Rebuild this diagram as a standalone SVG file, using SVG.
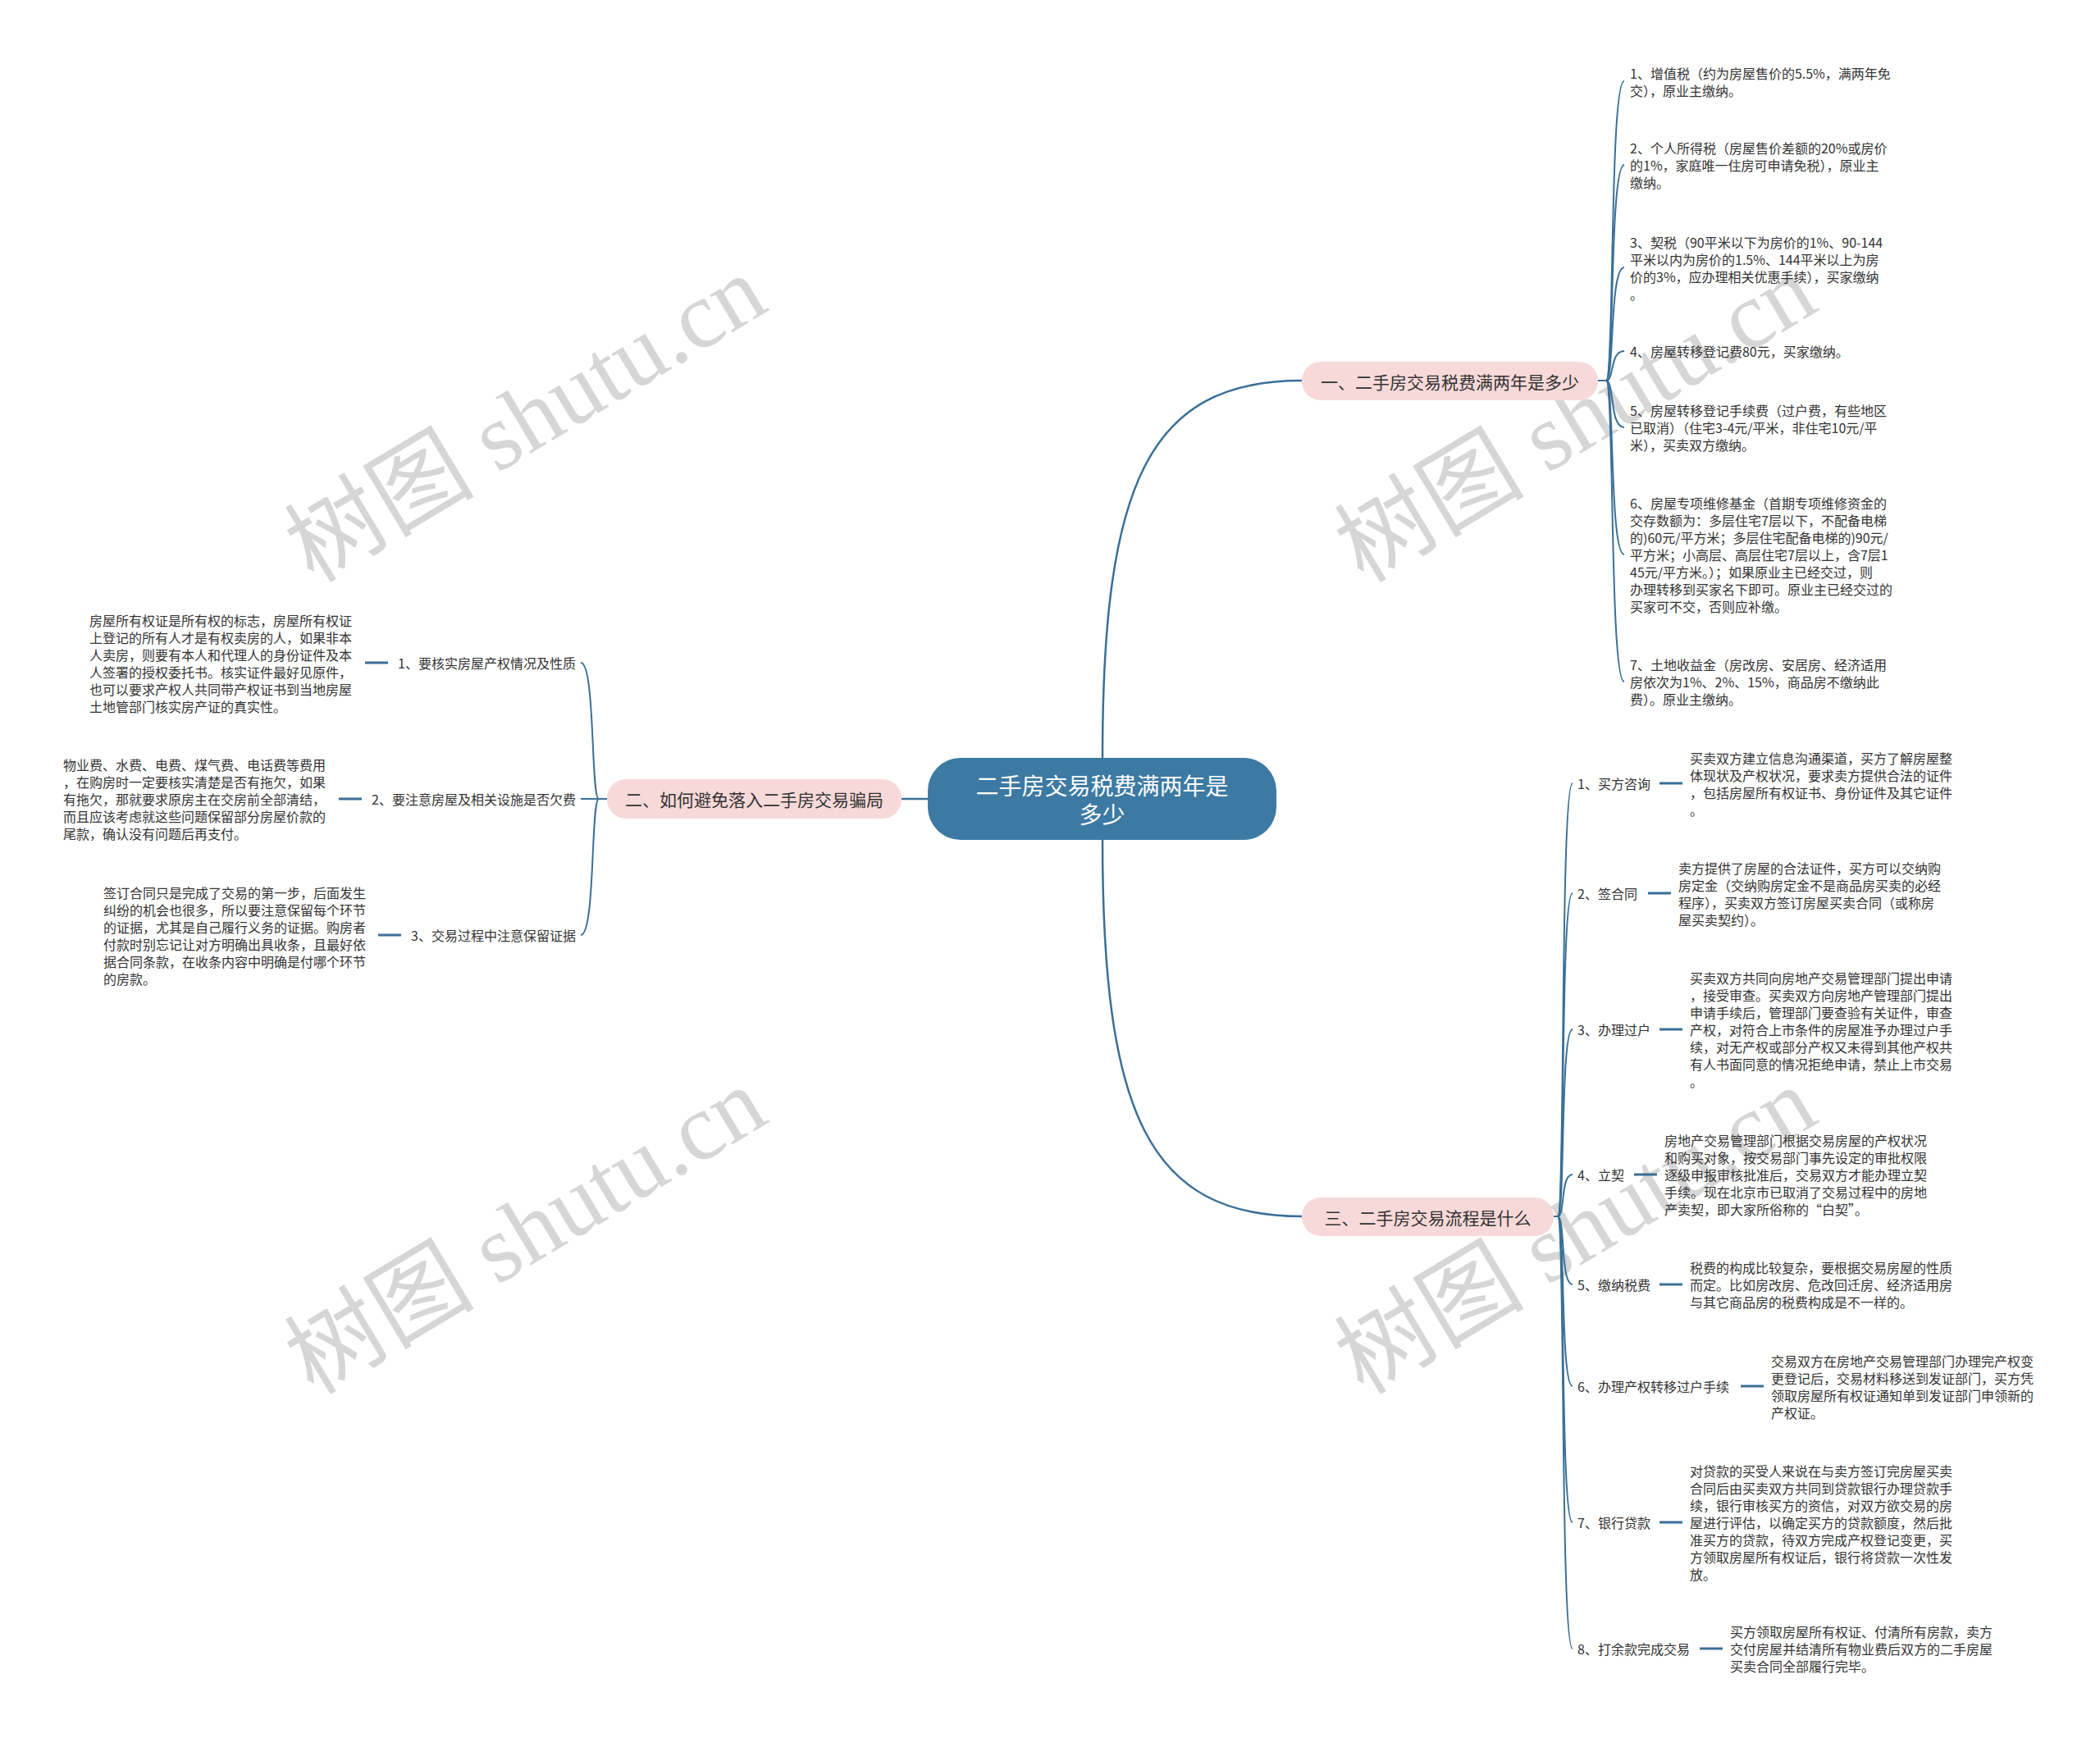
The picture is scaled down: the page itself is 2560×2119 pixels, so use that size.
<svg xmlns="http://www.w3.org/2000/svg" width="2560" height="2119" viewBox="0 0 2560 2119">
<style>
.bg{fill:#ffffff}
.wm{font-family:"Liberation Serif","Noto Sans CJK SC",serif;font-size:116px;fill:#d6d6d6}
.c{fill:none;stroke:#3a6f96;stroke-width:2}
.cm{fill:none;stroke:#3a6f96;stroke-width:2.5}
.d{fill:none;stroke:#3a6f96;stroke-width:3}
.root{fill:#3d7aa3}
.rt{font-family:"Noto Sans CJK SC","Microsoft YaHei",sans-serif;font-size:28px;fill:#ffffff;text-anchor:middle;dominant-baseline:central}
.br{fill:#f8d9d9}
.bt{font-family:"Noto Sans CJK SC","Microsoft YaHei",sans-serif;font-size:21px;fill:#333333;text-anchor:middle;dominant-baseline:central}
.t{font-family:"Noto Sans CJK SC","Microsoft YaHei",sans-serif;font-size:16px;fill:#333333;dominant-baseline:central}
.e{text-anchor:end}
</style>
<rect class="bg" x="0" y="0" width="2560" height="2119"/>
<g id="watermark">
<text class="wm" x="382" y="712" transform="rotate(-31 382 712)">树图 shutu.cn</text>
<text class="wm" x="1662" y="712" transform="rotate(-31 1662 712)">树图 shutu.cn</text>
<text class="wm" x="382" y="1702" transform="rotate(-31 382 1702)">树图 shutu.cn</text>
<text class="wm" x="1662" y="1702" transform="rotate(-31 1662 1702)">树图 shutu.cn</text>
</g>
<g id="connectors">
<path class="cm" d="M1344 924 C1344 590 1400 464 1587 464"/>
<path class="cm" d="M1344 1024 C1344 1358 1400 1483 1587 1483"/>
<path class="cm" d="M1131 974 L1099 974"/>
<path class="c" d="M1948 464 L1958 464 C1968 464 1962 99 1980 99"/>
<path class="c" d="M1948 464 L1958 464 C1968 464 1962 201 1980 201"/>
<path class="c" d="M1948 464 L1958 464 C1968 464 1962 326 1980 326"/>
<path class="c" d="M1948 464 L1958 464 C1968 464 1962 428 1980 428"/>
<path class="c" d="M1948 464 L1958 464 C1968 464 1962 521 1980 521"/>
<path class="c" d="M1948 464 L1958 464 C1968 464 1962 676 1980 676"/>
<path class="c" d="M1948 464 L1958 464 C1968 464 1962 831 1980 831"/>
<path class="c" d="M1894 1483 L1899 1483 C1908 1483 1902 955 1917 955"/>
<path class="c" d="M1894 1483 L1899 1483 C1908 1483 1902 1089 1917 1089"/>
<path class="c" d="M1894 1483 L1899 1483 C1908 1483 1902 1255 1917 1255"/>
<path class="c" d="M1894 1483 L1899 1483 C1908 1483 1902 1432 1917 1432"/>
<path class="c" d="M1894 1483 L1899 1483 C1908 1483 1902 1566 1917 1566"/>
<path class="c" d="M1894 1483 L1899 1483 C1908 1483 1902 1690 1917 1690"/>
<path class="c" d="M1894 1483 L1899 1483 C1908 1483 1902 1856 1917 1856"/>
<path class="c" d="M1894 1483 L1899 1483 C1908 1483 1902 2010 1917 2010"/>
<path class="c" d="M740 974 L730 974 C720 974 726 808 708 808"/>
<path class="c" d="M740 974 L708 974"/>
<path class="c" d="M740 974 L730 974 C720 974 726 1140 708 1140"/>
<path class="d" d="M2023 955 L2051 955"/>
<path class="d" d="M2009 1089 L2037 1089"/>
<path class="d" d="M2023 1255 L2051 1255"/>
<path class="d" d="M1992 1432 L2020 1432"/>
<path class="d" d="M2023 1566 L2051 1566"/>
<path class="d" d="M2122 1690 L2150 1690"/>
<path class="d" d="M2023 1856 L2051 1856"/>
<path class="d" d="M2072 2010 L2100 2010"/>
<path class="d" d="M445 808 L473 808"/>
<path class="d" d="M413 974 L441 974"/>
<path class="d" d="M461 1140 L489 1140"/>
</g>
<g id="root">
<rect class="root" x="1131" y="924" width="425" height="100" rx="40" ry="40"/>
<text class="rt"><tspan x="1343.5" y="957">二手房交易税费满两年是</tspan><tspan x="1343.5" y="992">多少</tspan></text>
</g>
<g id="branch1">
<rect class="br" x="1587" y="441" width="361" height="47" rx="23" ry="23"/>
<text class="bt" x="1767.5" y="464.5">一、二手房交易税费满两年是多少</text>
</g>
<g id="branch2">
<rect class="br" x="740" y="950" width="359" height="48" rx="23" ry="23"/>
<text class="bt" x="919.5" y="974">二、如何避免落入二手房交易骗局</text>
</g>
<g id="branch3">
<rect class="br" x="1587" y="1460" width="307" height="47" rx="23" ry="23"/>
<text class="bt" x="1740.5" y="1483.5">三、二手房交易流程是什么</text>
</g>
<g id="b1-item1"><text class="t"><tspan x="1987" y="88.5">1、增值税（约为房屋售价的5.5%，满两年免</tspan><tspan x="1987" y="109.5">交），原业主缴纳。</tspan></text></g>
<g id="b1-item2"><text class="t"><tspan x="1987" y="180">2、个人所得税（房屋售价差额的20%或房价</tspan><tspan x="1987" y="201">的1%，家庭唯一住房可申请免税），原业主</tspan><tspan x="1987" y="222">缴纳。</tspan></text></g>
<g id="b1-item3"><text class="t"><tspan x="1987" y="294.5">3、契税（90平米以下为房价的1%、90-144</tspan><tspan x="1987" y="315.5">平米以内为房价的1.5%、144平米以上为房</tspan><tspan x="1987" y="336.5">价的3%，应办理相关优惠手续），买家缴纳</tspan><tspan x="1987" y="357.5">。</tspan></text></g>
<g id="b1-item4"><text class="t" x="1987" y="428">4、房屋转移登记费80元，买家缴纳。</text></g>
<g id="b1-item5"><text class="t"><tspan x="1987" y="500">5、房屋转移登记手续费（过户费，有些地区</tspan><tspan x="1987" y="521">已取消）（住宅3-4元/平米，非住宅10元/平</tspan><tspan x="1987" y="542">米），买卖双方缴纳。</tspan></text></g>
<g id="b1-item6"><text class="t"><tspan x="1987" y="613">6、房屋专项维修基金（首期专项维修资金的</tspan><tspan x="1987" y="634">交存数额为：多层住宅7层以下，不配备电梯</tspan><tspan x="1987" y="655">的)60元/平方米；多层住宅配备电梯的)90元/</tspan><tspan x="1987" y="676">平方米；小高层、高层住宅7层以上，含7层1</tspan><tspan x="1987" y="697">45元/平方米。）；如果原业主已经交过，则</tspan><tspan x="1987" y="718">办理转移到买家名下即可。原业主已经交过的</tspan><tspan x="1987" y="739">买家可不交，否则应补缴。</tspan></text></g>
<g id="b1-item7"><text class="t"><tspan x="1987" y="810">7、土地收益金（房改房、安居房、经济适用</tspan><tspan x="1987" y="831">房依次为1%、2%、15%，商品房不缴纳此</tspan><tspan x="1987" y="852">费）。原业主缴纳。</tspan></text></g>
<g id="b2-item1">
<text class="t e" x="702" y="808">1、要核实房屋产权情况及性质</text>
<text class="t"><tspan x="109" y="755.5">房屋所有权证是所有权的标志，房屋所有权证</tspan><tspan x="109" y="776.5">上登记的所有人才是有权卖房的人，如果非本</tspan><tspan x="109" y="797.5">人卖房，则要有本人和代理人的身份证件及本</tspan><tspan x="109" y="818.5">人签署的授权委托书。核实证件最好见原件，</tspan><tspan x="109" y="839.5">也可以要求产权人共同带产权证书到当地房屋</tspan><tspan x="109" y="860.5">土地管部门核实房产证的真实性。</tspan></text>
</g>
<g id="b2-item2">
<text class="t e" x="702" y="974">2、要注意房屋及相关设施是否欠费</text>
<text class="t"><tspan x="77" y="932">物业费、水费、电费、煤气费、电话费等费用</tspan><tspan x="77" y="953">，在购房时一定要核实清楚是否有拖欠，如果</tspan><tspan x="77" y="974">有拖欠，那就要求原房主在交房前全部清结，</tspan><tspan x="77" y="995">而且应该考虑就这些问题保留部分房屋价款的</tspan><tspan x="77" y="1016">尾款，确认没有问题后再支付。</tspan></text>
</g>
<g id="b2-item3">
<text class="t e" x="702" y="1140">3、交易过程中注意保留证据</text>
<text class="t"><tspan x="126" y="1087.5">签订合同只是完成了交易的第一步，后面发生</tspan><tspan x="126" y="1108.5">纠纷的机会也很多，所以要注意保留每个环节</tspan><tspan x="126" y="1129.5">的证据，尤其是自己履行义务的证据。购房者</tspan><tspan x="126" y="1150.5">付款时别忘记让对方明确出具收条，且最好依</tspan><tspan x="126" y="1171.5">据合同条款，在收条内容中明确是付哪个环节</tspan><tspan x="126" y="1192.5">的房款。</tspan></text>
</g>
<g id="b3-item1">
<text class="t" x="1923" y="955">1、买方咨询</text>
<text class="t"><tspan x="2060" y="923.5">买卖双方建立信息沟通渠道，买方了解房屋整</tspan><tspan x="2060" y="944.5">体现状及产权状况，要求卖方提供合法的证件</tspan><tspan x="2060" y="965.5">，包括房屋所有权证书、身份证件及其它证件</tspan><tspan x="2060" y="986.5">。</tspan></text>
</g>
<g id="b3-item2">
<text class="t" x="1923" y="1089">2、签合同</text>
<text class="t"><tspan x="2046" y="1057.5">卖方提供了房屋的合法证件，买方可以交纳购</tspan><tspan x="2046" y="1078.5">房定金（交纳购房定金不是商品房买卖的必经</tspan><tspan x="2046" y="1099.5">程序），买卖双方签订房屋买卖合同（或称房</tspan><tspan x="2046" y="1120.5">屋买卖契约）。</tspan></text>
</g>
<g id="b3-item3">
<text class="t" x="1923" y="1255">3、办理过户</text>
<text class="t"><tspan x="2060" y="1192">买卖双方共同向房地产交易管理部门提出申请</tspan><tspan x="2060" y="1213">，接受审查。买卖双方向房地产管理部门提出</tspan><tspan x="2060" y="1234">申请手续后，管理部门要查验有关证件，审查</tspan><tspan x="2060" y="1255">产权，对符合上市条件的房屋准予办理过户手</tspan><tspan x="2060" y="1276">续，对无产权或部分产权又未得到其他产权共</tspan><tspan x="2060" y="1297">有人书面同意的情况拒绝申请，禁止上市交易</tspan><tspan x="2060" y="1318">。</tspan></text>
</g>
<g id="b3-item4">
<text class="t" x="1923" y="1432">4、立契</text>
<text class="t"><tspan x="2029" y="1390">房地产交易管理部门根据交易房屋的产权状况</tspan><tspan x="2029" y="1411">和购买对象，按交易部门事先设定的审批权限</tspan><tspan x="2029" y="1432">逐级申报审核批准后，交易双方才能办理立契</tspan><tspan x="2029" y="1453">手续。现在北京市已取消了交易过程中的房地</tspan><tspan x="2029" y="1474">产卖契，即大家所俗称的“白契”。</tspan></text>
</g>
<g id="b3-item5">
<text class="t" x="1923" y="1566">5、缴纳税费</text>
<text class="t"><tspan x="2060" y="1545">税费的构成比较复杂，要根据交易房屋的性质</tspan><tspan x="2060" y="1566">而定。比如房改房、危改回迁房、经济适用房</tspan><tspan x="2060" y="1587">与其它商品房的税费构成是不一样的。</tspan></text>
</g>
<g id="b3-item6">
<text class="t" x="1923" y="1690">6、办理产权转移过户手续</text>
<text class="t"><tspan x="2159" y="1658.5">交易双方在房地产交易管理部门办理完产权变</tspan><tspan x="2159" y="1679.5">更登记后，交易材料移送到发证部门，买方凭</tspan><tspan x="2159" y="1700.5">领取房屋所有权证通知单到发证部门申领新的</tspan><tspan x="2159" y="1721.5">产权证。</tspan></text>
</g>
<g id="b3-item7">
<text class="t" x="1923" y="1856">7、银行贷款</text>
<text class="t"><tspan x="2060" y="1793">对贷款的买受人来说在与卖方签订完房屋买卖</tspan><tspan x="2060" y="1814">合同后由买卖双方共同到贷款银行办理贷款手</tspan><tspan x="2060" y="1835">续，银行审核买方的资信，对双方欲交易的房</tspan><tspan x="2060" y="1856">屋进行评估，以确定买方的贷款额度，然后批</tspan><tspan x="2060" y="1877">准买方的贷款，待双方完成产权登记变更，买</tspan><tspan x="2060" y="1898">方领取房屋所有权证后，银行将贷款一次性发</tspan><tspan x="2060" y="1919">放。</tspan></text>
</g>
<g id="b3-item8">
<text class="t" x="1923" y="2010">8、打余款完成交易</text>
<text class="t"><tspan x="2109" y="1989">买方领取房屋所有权证、付清所有房款，卖方</tspan><tspan x="2109" y="2010">交付房屋并结清所有物业费后双方的二手房屋</tspan><tspan x="2109" y="2031">买卖合同全部履行完毕。</tspan></text>
</g>
</svg>
